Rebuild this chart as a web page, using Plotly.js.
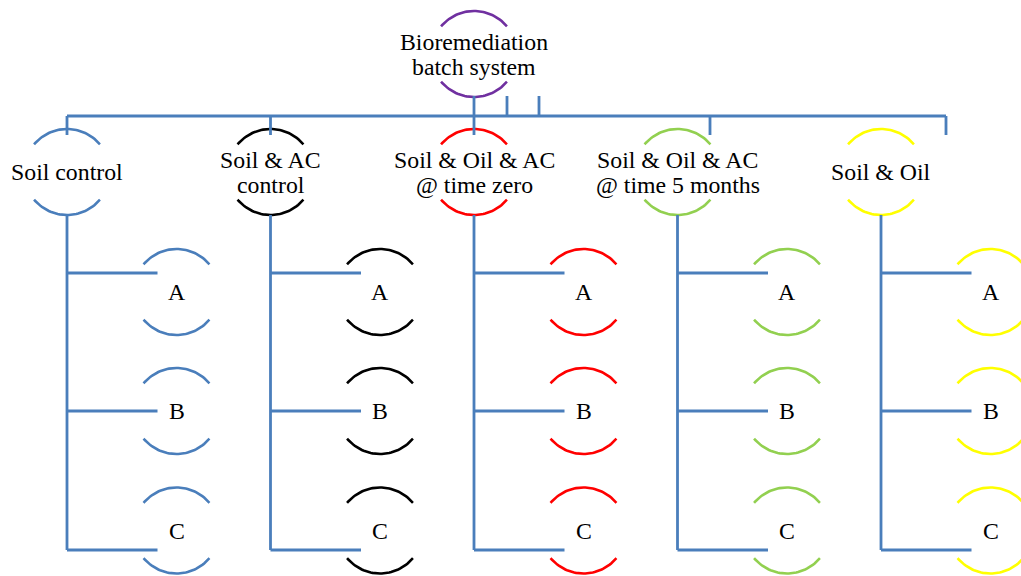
<!DOCTYPE html>
<html>
<head>
<meta charset="utf-8">
<script src="https://cdn.plot.ly/plotly-3.0.1.min.js"></script>
<style>html,body{margin:0;padding:0;background:#fff;}#chart{width:1021px;height:576px;}</style>
</head>
<body>
<div id="chart"></div>
<script>
// ---- data ----
const rootLabel = ["Bioremediation", "batch system"];
const rootColor = "#7030a0";
const groupLabels = [
  ["Soil control"],
  ["Soil & AC", "control"],
  ["Soil & Oil & AC", "@ time zero"],
  ["Soil & Oil & AC", "@ time 5 months"],
  ["Soil & Oil"]
];
const groupColors = ["#4a7ebb", "#000000", "#ff0000", "#92d050", "#ffff00"];
const childLabels = ["A", "B", "C"];
const lineColor = "#4a7ebb";

// ---- layout geometry (pixels) ----
const W = 1021, H = 576;
const R = 43, A0 = 40 * Math.PI / 180; // arc radius, arc half-gap angle
const root = {x: 474, y: 54};
const gx0 = 67, gdx = 203.5, gy = 172;
const childDx = 109.5;
const childY = [292, 411, 530.5];
const branchY = [273, 411, 550];
const busY = 116;
const FONT = {family: "Liberation Serif, Times New Roman, serif", size: 23.8, color: "#000"};

const traces = [];
const annotations = [];

function arcPts(cx, cy) {
  const xs = [], ys = [];
  const n = 40;
  for (let i = 0; i <= n; i++) {
    const a = A0 + (Math.PI - 2 * A0) * i / n;
    xs.push(cx + R * Math.cos(a)); ys.push(cy - R * Math.sin(a));
  }
  xs.push(null); ys.push(null);
  for (let i = 0; i <= n; i++) {
    const a = A0 + (Math.PI - 2 * A0) * i / n;
    xs.push(cx + R * Math.cos(a)); ys.push(cy + R * Math.sin(a));
  }
  return {xs, ys};
}
function addNode(cx, cy, color, lines, spacing) {
  const p = arcPts(cx, cy);
  traces.push({type: "scatter", mode: "lines", x: p.xs, y: p.ys,
    line: {color: color, width: 2.6}, hoverinfo: "skip", showlegend: false});
  const n = lines.length;
  lines.forEach((t, i) => {
    annotations.push({x: cx, y: cy + (i - (n - 1) / 2) * spacing, xref: "x", yref: "y",
      text: t.replace(/&/g, "&amp;"), showarrow: false, font: FONT,
      xanchor: "center", yanchor: "middle"});
  });
}

// nodes
addNode(root.x, root.y, rootColor, rootLabel, 25);
const gxs = groupLabels.map((_, i) => gx0 + i * gdx);
groupLabels.forEach((lab, i) => {
  addNode(gxs[i], gy, groupColors[i], lab, 25);
  childLabels.forEach((c, j) => addNode(gxs[i] + childDx, childY[j], groupColors[i], [c], 25));
});

// connector lines
const lx = [], ly = [];
function seg(x1, y1, x2, y2) { lx.push(x1, x2, null); ly.push(y1, y2, null); }
seg(gxs[0], gy - 37, gxs[0], busY);
seg(gxs[0], busY, 946, busY);
seg(946, busY, 946, gy - 37);
seg(gxs[1], busY, gxs[1], gy - 37);
seg(710, busY, 710, gy - 37);
seg(root.x, root.y + 42, root.x, gy - 37);
seg(507, root.y + 42, 507, busY);
seg(539, root.y + 42, 539, busY);
gxs.forEach(x => {
  seg(x, gy + R, x, branchY[branchY.length - 1]);
  branchY.forEach(by => seg(x, by, x + childDx - 19, by));
});
traces.push({type: "scatter", mode: "lines", x: lx, y: ly,
  line: {color: lineColor, width: 2.8}, hoverinfo: "skip", showlegend: false});

Plotly.newPlot("chart", traces, {
  width: W, height: H,
  margin: {l: 0, r: 0, t: 0, b: 0},
  paper_bgcolor: "#fff", plot_bgcolor: "#fff",
  xaxis: {range: [0, W], visible: false, fixedrange: true},
  yaxis: {range: [H, 0], visible: false, fixedrange: true},
  annotations: annotations,
  showlegend: false
}, {staticPlot: true});
</script>
</body>
</html>
